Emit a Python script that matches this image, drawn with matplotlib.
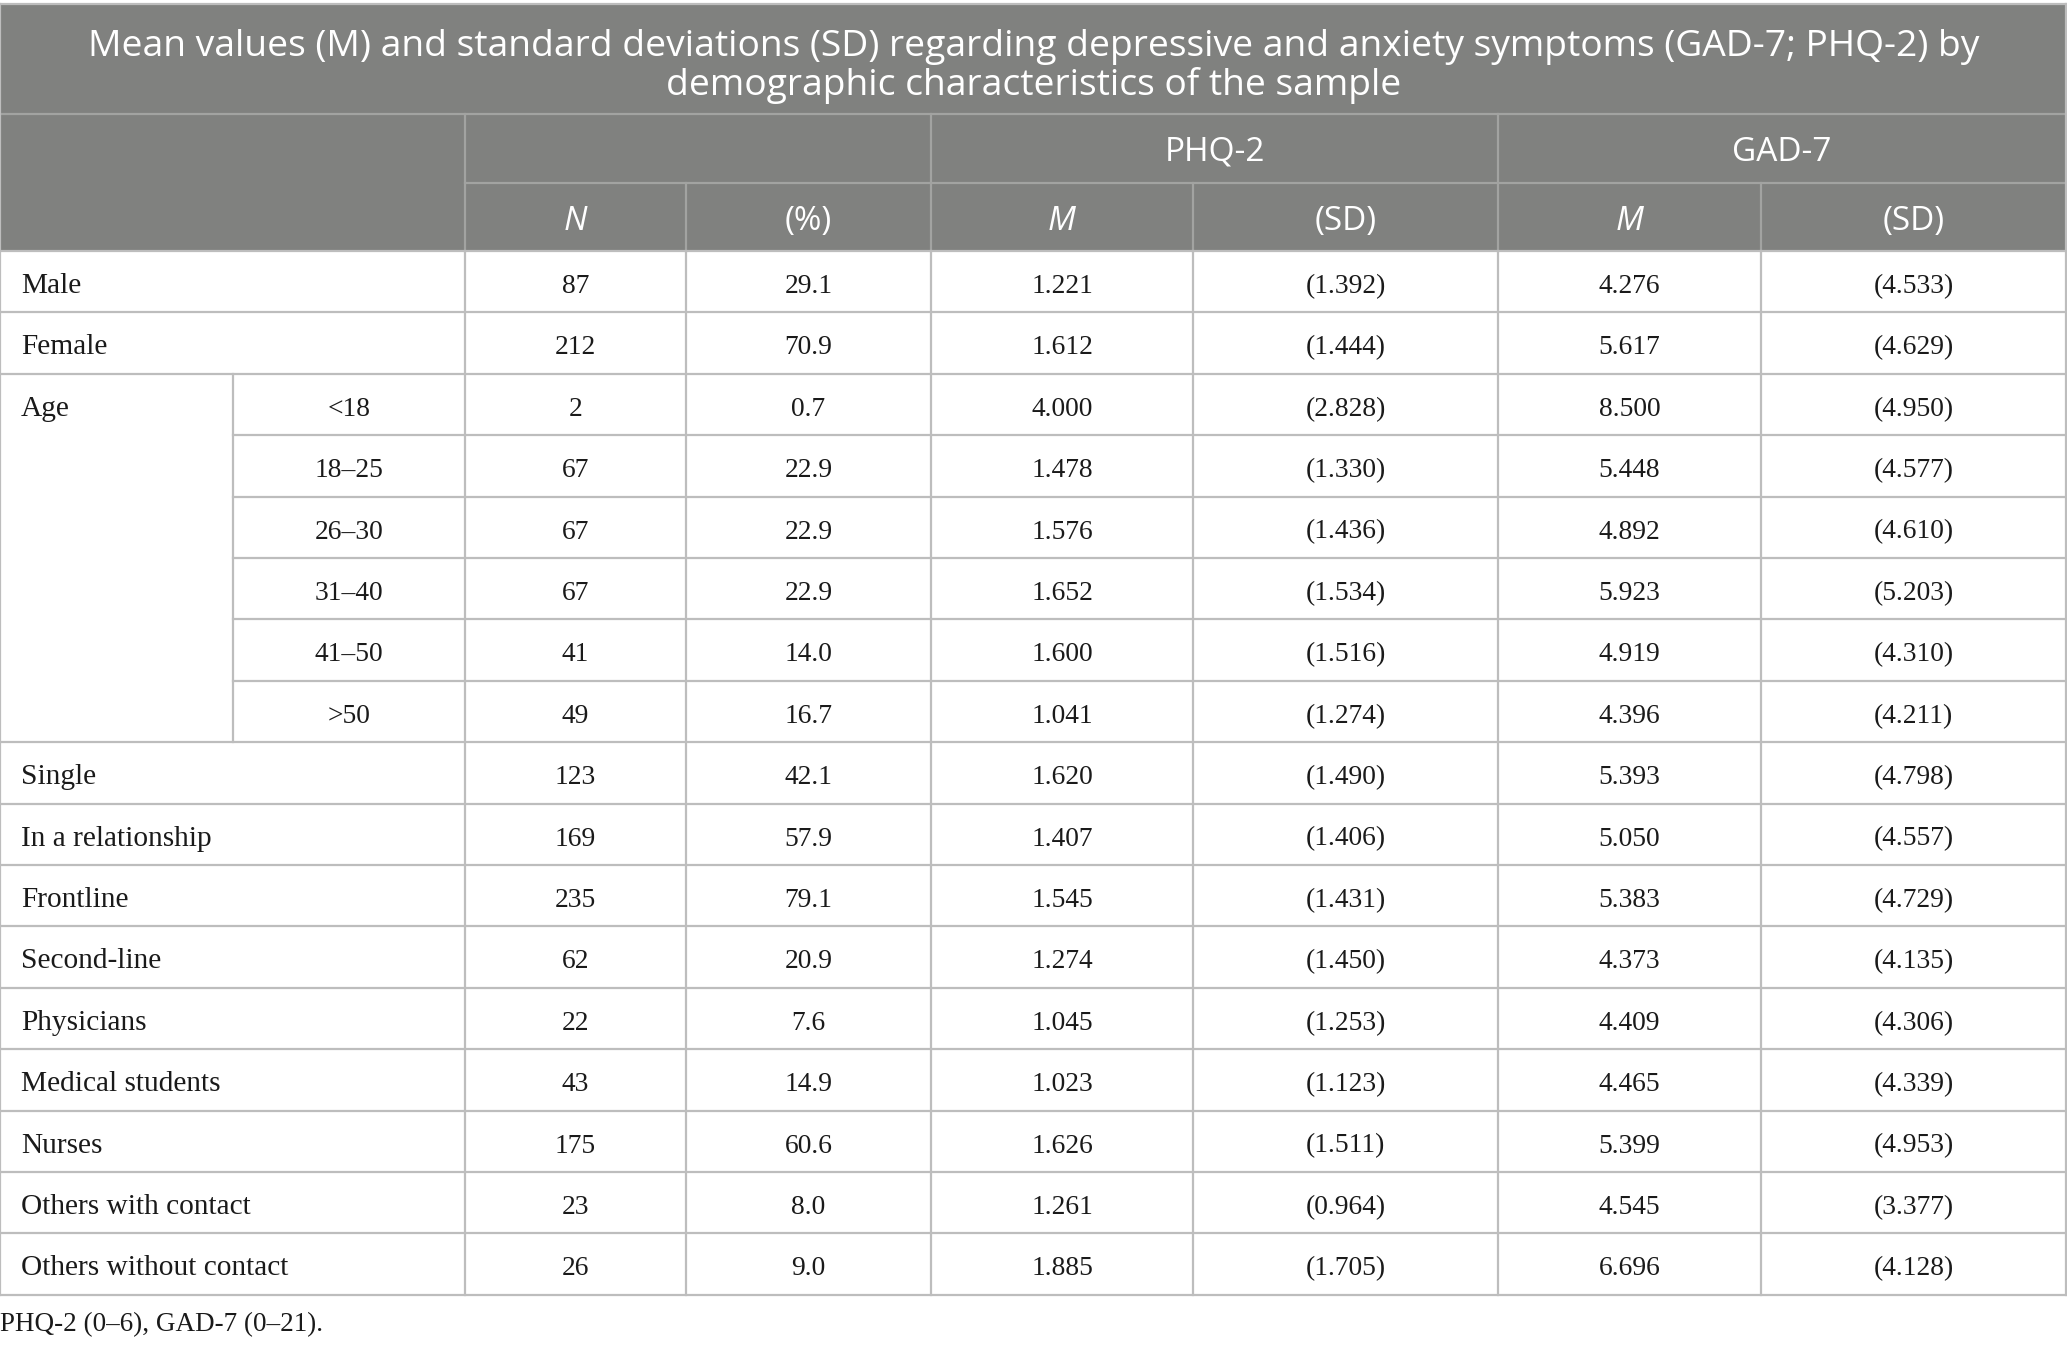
import matplotlib.pyplot as plt
from matplotlib.patches import Rectangle

# table content
title_lines = ["Mean values (M) and standard deviations (SD) regarding depressive and anxiety symptoms (GAD-7; PHQ-2) by",
               "demographic characteristics of the sample"]
groups = ["PHQ-2", "GAD-7"]
sub_headers = ["N", "(%)", "M", "(SD)", "M", "(SD)"]
row_labels = ["Male", "Female", "Age", "", "", "", "", "", "Single", "In a relationship",
              "Frontline", "Second-line", "Physicians", "Medical students", "Nurses",
              "Others with contact", "Others without contact"]
age_labels = ["<18", "18–25", "26–30", "31–40", "41–50", ">50"]
n_vals = [87, 212, 2, 67, 67, 67, 41, 49, 123, 169, 235, 62, 22, 43, 175, 23, 26]
pct_vals = [29.1, 70.9, 0.7, 22.9, 22.9, 22.9, 14.0, 16.7, 42.1, 57.9, 79.1, 20.9, 7.6, 14.9, 60.6, 8.0, 9.0]
phq_m = [1.221, 1.612, 4.000, 1.478, 1.576, 1.652, 1.600, 1.041, 1.620, 1.407, 1.545, 1.274, 1.045, 1.023, 1.626, 1.261, 1.885]
phq_sd = [1.392, 1.444, 2.828, 1.330, 1.436, 1.534, 1.516, 1.274, 1.490, 1.406, 1.431, 1.450, 1.253, 1.123, 1.511, 0.964, 1.705]
gad_m = [4.276, 5.617, 8.500, 5.448, 4.892, 5.923, 4.919, 4.396, 5.393, 5.050, 5.383, 4.373, 4.409, 4.465, 5.399, 4.545, 6.696]
gad_sd = [4.533, 4.629, 4.950, 4.577, 4.610, 5.203, 4.310, 4.211, 4.798, 4.557, 4.729, 4.135, 4.306, 4.339, 4.953, 3.377, 4.128]
footnote = "PHQ-2 (0–6), GAD-7 (0–21)."

# layout in pixels
W, H = 2067, 1347
xcols = [0, 233, 465, 686, 931, 1193, 1498, 1761, 2066]
y_top, y_title, y_h1, y_h2 = 4, 114, 183, 251
rh = 61.4
age_first, age_last = 2, 7

head_bg = "#80817f"
head_line = "#a2a3a1"
grid = "#bdbdbd"
txt = "#1a1a1a"
sans = ["Open Sans", "DejaVu Sans"]
serif = ["Liberation Serif", "DejaVu Serif"]

fig = plt.figure(figsize=(W / 100, H / 100), dpi=100)
ax = fig.add_axes([0, 0, 1, 1])
ax.set_xlim(0, W)
ax.set_ylim(H, 0)
ax.axis("off")

# header background
ax.add_patch(Rectangle((0, y_top), xcols[-1], y_h2 - y_top, facecolor=head_bg, edgecolor="none"))

for i, line in enumerate(title_lines):
    ax.text(W / 2, 56 + i * 39, line, ha="center", va="baseline", color="white",
            fontsize=26.8, family=sans)

# header lines
ax.plot([0, xcols[-1]], [y_title, y_title], color=head_line, lw=1.6)
ax.plot([xcols[2], xcols[-1]], [y_h1, y_h1], color=head_line, lw=1.6)
for x in [xcols[2], xcols[4], xcols[6]]:
    ax.plot([x, x], [y_title, y_h2], color=head_line, lw=1.6)
for x in [xcols[3], xcols[5], xcols[7]]:
    ax.plot([x, x], [y_h1, y_h2], color=head_line, lw=1.6)

for g, (a, b) in zip(groups, [(4, 6), (6, 8)]):
    ax.text((xcols[a] + xcols[b]) / 2, 161, g, ha="center", va="baseline", color="white",
            fontsize=24, family=sans)
for j, s in enumerate(sub_headers):
    ax.text((xcols[j + 2] + xcols[j + 3]) / 2, 230, s, ha="center", va="baseline", color="white",
            fontsize=24, family=sans, style="italic" if s in ("N", "M") else "normal")

# body
n_rows = len(row_labels)
y_bottom = y_h2 + n_rows * rh
for i in range(n_rows + 1):
    y = y_h2 + i * rh
    x0 = xcols[1] if age_first < i <= age_last else 0
    ax.plot([x0, xcols[-1]], [y, y], color=grid, lw=1.6)
for x in [0, xcols[2], xcols[3], xcols[4], xcols[5], xcols[6], xcols[7], xcols[8]]:
    ax.plot([x, x], [y_h2, y_bottom], color=grid, lw=1.6)
ax.plot([xcols[1], xcols[1]], [y_h2 + age_first * rh, y_h2 + (age_last + 1) * rh], color=grid, lw=1.6)
ax.plot([0, 0], [y_top, y_h2], color=grid, lw=1.6)
ax.plot([xcols[-1], xcols[-1]], [y_top, y_h2], color=grid, lw=1.6)
ax.plot([0, xcols[-1]], [y_top, y_top], color=grid, lw=1.6)

fs_label = 21.2
fs_num = 19.8
for i in range(n_rows):
    yb = y_h2 + i * rh + 42
    ax.text(21, yb, row_labels[i], ha="left", va="baseline", color=txt, fontsize=fs_label, family=serif)
    if age_first <= i <= age_last:
        ax.text((xcols[1] + xcols[2]) / 2, yb, age_labels[i - age_first], ha="center",
                va="baseline", color=txt, fontsize=fs_num, family=serif)
    cells = [str(n_vals[i]), f"{pct_vals[i]:.1f}", f"{phq_m[i]:.3f}", f"({phq_sd[i]:.3f})",
             f"{gad_m[i]:.3f}", f"({gad_sd[i]:.3f})"]
    for j, c in enumerate(cells):
        ax.text((xcols[j + 2] + xcols[j + 3]) / 2, yb, c, ha="center", va="baseline",
                color=txt, fontsize=fs_num, family=serif)

ax.text(0, 1331, footnote, ha="left", va="baseline", color=txt, fontsize=19.5, family=serif)

fig.savefig("out.png", dpi=100)
